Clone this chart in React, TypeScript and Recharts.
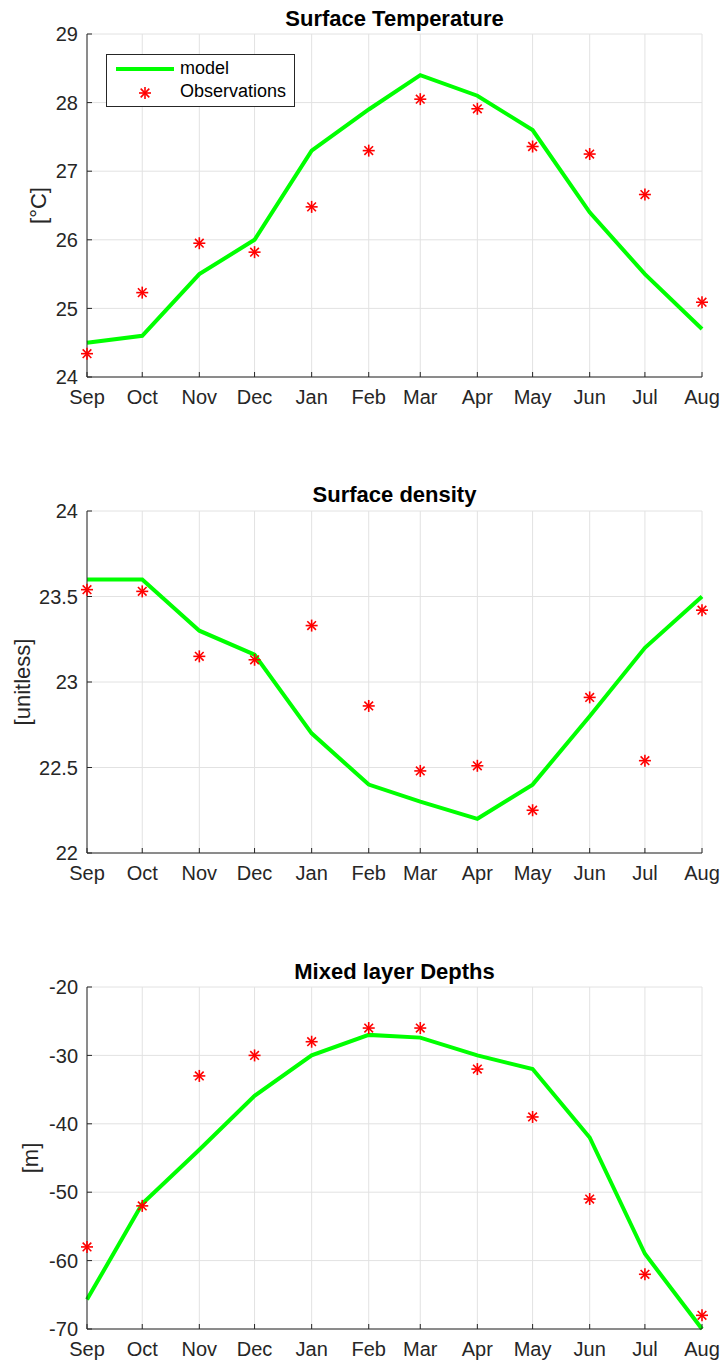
import React from 'react';
import { ComposedChart, Line, Scatter, XAxis, YAxis, CartesianGrid, Label } from 'recharts';

const months = ['Sep', 'Oct', 'Nov', 'Dec', 'Jan', 'Feb', 'Mar', 'Apr', 'May', 'Jun', 'Jul', 'Aug'];
// days since 1 Sep, the axis is a date axis so spacing follows month lengths
const dayOffsets = [0, 30, 61, 91, 122, 153, 181, 212, 242, 273, 303, 334];

const tempModel = [24.5, 24.6, 25.5, 26.0, 27.3, 27.9, 28.4, 28.1, 27.6, 26.4, 25.5, 24.7];
const tempObs = [24.34, 25.23, 25.95, 25.82, 26.48, 27.3, 28.05, 27.91, 27.36, 27.25, 26.66, 25.09];
const tempTicks = [24, 25, 26, 27, 28, 29];

const densModel = [23.6, 23.6, 23.3, 23.16, 22.7, 22.4, 22.3, 22.2, 22.4, 22.8, 23.2, 23.5];
const densObs = [23.54, 23.53, 23.15, 23.13, 23.33, 22.86, 22.48, 22.51, 22.25, 22.91, 22.54, 23.42];
const densTicks = [22, 22.5, 23, 23.5, 24];

const mldModel = [-65.7, -51.7, -43.8, -35.9, -30, -27, -27.4, -30, -32, -42, -59, -70];
const mldObs = [-58, -52, -33, -30, -28, -26, -26, -32, -39, -51, -62, -68];
const mldTicks = [-70, -60, -50, -40, -30, -20];

const FONT = '"Liberation Sans", Arial, Helvetica, sans-serif';
const AXIS = '#262626';
const GREEN = '#00ff00';
const RED = '#ff0000';

const Star = ({ cx, cy }: any) => {
  if (cx == null || cy == null) return null;
  const r = 6;
  const d = r * 0.72;
  return (
    <g stroke={RED} strokeWidth={1.6}>
      <line x1={cx - r} y1={cy} x2={cx + r} y2={cy} />
      <line x1={cx} y1={cy - r} x2={cx} y2={cy + r} />
      <line x1={cx - d} y1={cy - d} x2={cx + d} y2={cy + d} />
      <line x1={cx - d} y1={cy + d} x2={cx + d} y2={cy - d} />
    </g>
  );
};

// legend drawn as a plain overlay so it doesn't eat into the plot area
const LegendBox = () => (
  <div
    style={{
      position: 'absolute',
      left: 106,
      top: 54,
      width: 187,
      height: 51,
      border: `1px solid ${AXIS}`,
      background: '#fff',
      fontFamily: FONT,
      fontSize: 18,
      color: '#000',
    }}
  >
    <svg width={70} height={51} style={{ position: 'absolute', left: 0, top: 0 }}>
      <line x1={9} y1={14} x2={67} y2={14} stroke={GREEN} strokeWidth={4} />
      <Star cx={38} cy={38} />
    </svg>
    <div style={{ position: 'absolute', left: 73, top: 3 }}>model</div>
    <div style={{ position: 'absolute', left: 73, top: 26 }}>Observations</div>
  </div>
);

const YLabel = ({ viewBox, value, lx }: any) => {
  const cy = viewBox.y + viewBox.height / 2;
  return (
    <text
      x={lx}
      y={cy}
      transform={`rotate(-90 ${lx} ${cy})`}
      textAnchor="middle"
      dominantBaseline="central"
      fill={AXIS}
      fontSize={22}
      fontFamily={FONT}
    >
      {value}
    </text>
  );
};

interface PanelProps {
  title: string;
  model: number[];
  obs: number[];
  ticks: number[];
  yLabel: string;
  labelX: number;
  top: number;
  marginTop: number;
  marginBottom: number;
  titleY: number;
  legend?: boolean;
}

const tickStyle = { fill: AXIS, fontSize: 20, fontFamily: FONT };

const Panel: React.FC<PanelProps> = ({ title, model, obs, ticks, yLabel, labelX, top, marginTop, marginBottom, titleY, legend }) => {
  const data = months.map((m, i) => ({ day: dayOffsets[i], model: model[i], obs: obs[i] }));
  const domain = [ticks[0], ticks[ticks.length - 1]];
  return (
    <div style={{ position: 'absolute', left: 0, top, width: 720, height: 454 }}>
      <div
        style={{
          position: 'absolute',
          left: 87,
          width: 615,
          top: titleY,
          textAlign: 'center',
          fontFamily: FONT,
          fontWeight: 'bold',
          fontSize: 22,
          lineHeight: '22px',
          color: '#000',
        }}
      >
        {title}
      </div>
      <ComposedChart width={720} height={454} data={data} margin={{ top: marginTop, right: 18, bottom: marginBottom, left: 0 }}>
        <CartesianGrid stroke="#e2e2e2" strokeWidth={1} />
        <XAxis
          dataKey="day"
          type="number"
          domain={[0, 334]}
          ticks={dayOffsets}
          tickFormatter={(v: number) => months[dayOffsets.indexOf(v)]}
          height={30}
          stroke={AXIS}
          tick={tickStyle}
          tickSize={-5}
          tickMargin={18}
          interval={0}
        />
        <XAxis
          xAxisId="top"
          orientation="top"
          type="number"
          domain={[0, 334]}
          ticks={dayOffsets}
          height={0}
          stroke={AXIS}
          tick={false}
          tickSize={-5}
        />
        <YAxis
          type="number"
          domain={domain}
          ticks={ticks}
          width={87}
          stroke={AXIS}
          tick={tickStyle}
          tickSize={-5}
          tickMargin={14}
          interval={0}
        >
          <Label content={<YLabel value={yLabel} lx={labelX} />} />
        </YAxis>
        <YAxis
          yAxisId="r"
          orientation="right"
          type="number"
          domain={domain}
          ticks={ticks}
          width={0}
          stroke={AXIS}
          tick={false}
          tickSize={-5}
        />
        <Line
          dataKey="model"
          stroke={GREEN}
          strokeWidth={4}
          dot={false}
          activeDot={false}
          isAnimationActive={false}
          strokeLinejoin="miter"
        />
        <Scatter dataKey="obs" shape={<Star />} isAnimationActive={false} />
      </ComposedChart>
      {legend && <LegendBox />}
    </div>
  );
};

export default function App() {
  return (
    <div style={{ position: 'absolute', left: 0, top: 0, width: 720, height: 1362, background: '#fff' }}>
      <Panel
        title="Surface Temperature"
        model={tempModel}
        obs={tempObs}
        ticks={tempTicks}
        yLabel="[°C]"
        labelX={38}
        top={0}
        marginTop={34}
        marginBottom={47}
        titleY={8}
        legend
      />
      <Panel
        title="Surface density"
        model={densModel}
        obs={densObs}
        ticks={densTicks}
        yLabel="[unitless]"
        labelX={22}
        top={454}
        marginTop={57}
        marginBottom={25}
        titleY={30}
      />
      <Panel
        title="Mixed layer Depths"
        model={mldModel}
        obs={mldObs}
        ticks={mldTicks}
        yLabel="[m]"
        labelX={30}
        top={908}
        marginTop={79}
        marginBottom={3}
        titleY={53}
      />
    </div>
  );
}
